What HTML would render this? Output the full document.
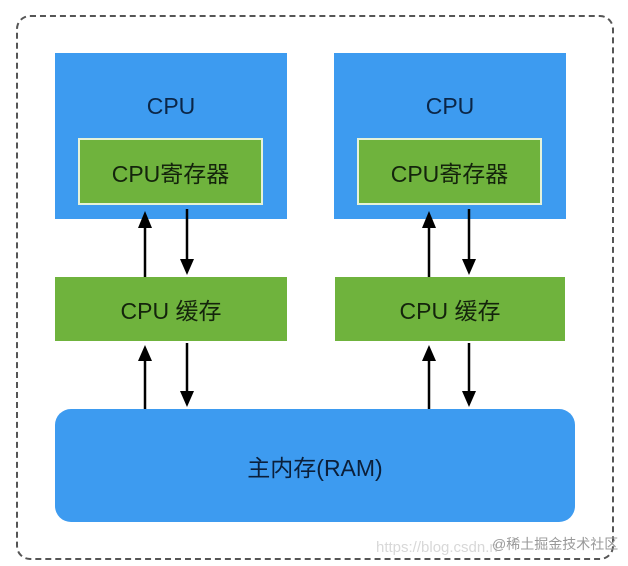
<!DOCTYPE html>
<html><head><meta charset="utf-8"><style>
body{margin:0;width:628px;height:566px;background:#fff;position:relative;overflow:hidden;font-family:"Liberation Sans","Noto Sans CJK SC",sans-serif;}
.a{position:absolute;box-sizing:border-box;display:flex;align-items:center;justify-content:center;font-size:23px;}
.blue{background:#3d9bf0;color:#0b2647;}
.green{background:#6fb33d;color:#14240c;}
.reg{border:2px solid #e6f2d9;}
</style></head><body>
<div style="position:absolute;left:16px;top:15px;width:598px;height:545px;border:2px dashed #555;border-radius:14px;box-sizing:border-box"></div>
<div class="a blue" style="left:55px;top:53px;width:232px;height:166px;align-items:flex-start;padding-top:40px">CPU</div>
<div class="a green reg" style="left:78px;top:138px;width:185px;height:67px">CPU寄存器</div>
<div class="a blue" style="left:334px;top:53px;width:232px;height:166px;align-items:flex-start;padding-top:40px">CPU</div>
<div class="a green reg" style="left:357px;top:138px;width:185px;height:67px">CPU寄存器</div>
<div class="a green" style="left:55px;top:277px;width:232px;height:64px">CPU 缓存</div>
<div class="a green" style="left:335px;top:277px;width:230px;height:64px">CPU 缓存</div>
<div class="a blue" style="left:55px;top:409px;width:520px;height:113px;border-radius:16px;color:#0b1f3a">主内存(RAM)</div>
<svg width="628" height="566" style="position:absolute;left:0;top:0">
<g stroke="#000" stroke-width="2.5" fill="#000">
<line x1="145" y1="277" x2="145" y2="225"/><polygon points="138,228 152,228 145,211" stroke="none"/>
<line x1="187" y1="209" x2="187" y2="262"/><polygon points="180,259 194,259 187,275" stroke="none"/>
<line x1="145" y1="409" x2="145" y2="358"/><polygon points="138,361 152,361 145,345" stroke="none"/>
<line x1="187" y1="343" x2="187" y2="394"/><polygon points="180,391 194,391 187,407" stroke="none"/>
<line x1="429" y1="277" x2="429" y2="225"/><polygon points="422,228 436,228 429,211" stroke="none"/>
<line x1="469" y1="209" x2="469" y2="262"/><polygon points="462,259 476,259 469,275" stroke="none"/>
<line x1="429" y1="409" x2="429" y2="358"/><polygon points="422,361 436,361 429,345" stroke="none"/>
<line x1="469" y1="343" x2="469" y2="394"/><polygon points="462,391 476,391 469,407" stroke="none"/>
</g>
<text x="376" y="552" font-size="15" fill="#d8d8d8" font-family="Liberation Sans,sans-serif">https://blog.csdn.n</text>
<text x="492" y="549" font-size="14" fill="#999" font-family="Liberation Sans,Noto Sans CJK SC,sans-serif">@稀土掘金技术社区</text>
</svg>
</body></html>
